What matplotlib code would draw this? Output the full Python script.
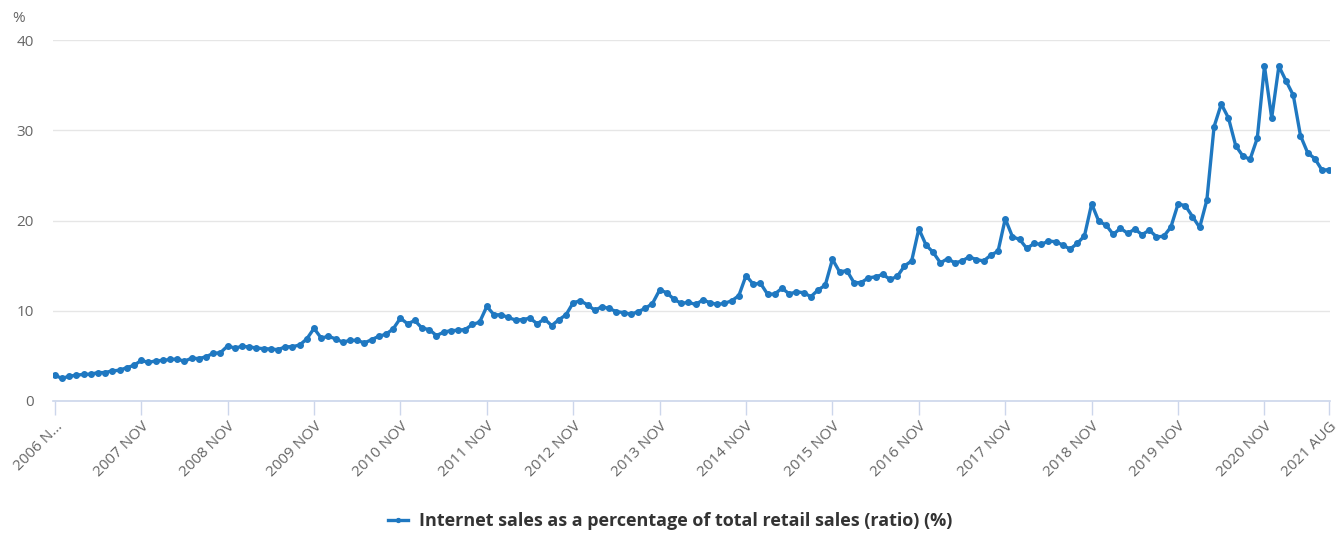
import numpy as np
from matplotlib import pyplot as plt

# monthly ratio, 2006 Nov .. 2021 Aug
ratio = [
    2.86, 2.5, 2.75, 2.86, 2.95, 2.97, 3.15, 3.15, 3.35, 3.4, 3.7, 3.95,
    4.5, 4.27, 4.45, 4.5, 4.6, 4.65, 4.4, 4.75, 4.7, 4.9, 5.28, 5.35,
    6.1, 5.87, 6.05, 6.0, 5.87, 5.8, 5.76, 5.69, 6.0, 6.02, 6.2, 6.88,
    8.05, 6.97, 7.17, 6.88, 6.52, 6.72, 6.72, 6.43, 6.8, 7.17, 7.4, 8.0,
    9.18, 8.55, 8.92, 8.07, 7.92, 7.25, 7.62, 7.8, 7.84, 7.92, 8.48, 8.74,
    10.48, 9.55, 9.55, 9.26, 8.96, 9.03, 9.18, 8.55, 9.1, 8.36, 9.0, 9.55,
    10.9, 11.1, 10.65, 10.05, 10.45, 10.25, 9.9, 9.8, 9.6, 9.9, 10.26, 10.8,
    12.3, 12.0, 11.26, 10.82, 10.93, 10.7, 11.19, 10.9, 10.7, 10.82, 11.1, 11.67,
    13.9, 12.94, 13.05, 11.82, 11.86, 12.5, 11.86, 12.1, 12.0, 11.56, 12.3, 12.83,
    15.7, 14.3, 14.45, 13.1, 13.13, 13.65, 13.76, 14.03, 13.47, 13.8, 14.96, 15.52,
    19.07, 17.28, 16.46, 15.3, 15.78, 15.3, 15.52, 15.97, 15.67, 15.52, 16.16, 16.6,
    20.19, 18.2, 17.9, 16.9, 17.46, 17.35, 17.72, 17.65, 17.28, 16.83, 17.46, 18.3,
    21.85, 19.89, 19.5, 18.45, 19.15, 18.57, 19.05, 18.42, 18.94, 18.2, 18.24, 19.27,
    21.83, 21.65, 20.44, 19.23, 22.27, 30.4, 32.9, 31.36, 28.3, 27.14, 26.78, 29.12,
    37.1, 31.36, 37.1, 35.46, 33.88, 29.4, 27.5, 26.85, 25.57, 25.64,
]
tick_labels = ["2006 N..."] + [f"{y} NOV" for y in range(2007, 2021)] + ["2021 AUG"]
tick_pos = list(range(0, 169, 12)) + [177]
y_ticks = [0, 10, 20, 30, 40]
series_name = "Internet sales as a percentage of total retail sales (ratio) (%)"

plt.rcParams["font.family"] = ["Open Sans", "DejaVu Sans"]

blue = "#1f78c1"
grey = "#666666"
axis_col = "#ccd6eb"


def main(output="out.png"):
    x = np.arange(len(ratio))
    fig = plt.figure(figsize=(13.41, 5.34), dpi=100)
    ax = fig.add_axes([53 / 1341, 1 - 401 / 534, 1277 / 1341, 361 / 534])

    ax.plot(x, ratio, color=blue, lw=2.4, marker="o", ms=4, label=series_name)

    ax.set_xlim(-0.25, 177.1)
    ax.set_ylim(0, 40)
    ax.set_yticks(y_ticks)
    ax.set_xticks(tick_pos)
    ax.set_xticklabels(tick_labels, rotation=45, ha="right", rotation_mode="anchor")

    ax.grid(axis="y", color="#e6e6e6", lw=1)
    ax.set_axisbelow(True)
    for side in ("top", "right", "left"):
        ax.spines[side].set_visible(False)
    ax.spines["bottom"].set_color(axis_col)
    ax.spines["bottom"].set_linewidth(1.2)
    ax.tick_params(axis="y", length=0, pad=14, labelsize=11, labelcolor=grey)
    ax.tick_params(axis="x", length=10, width=1, color=axis_col, pad=3,
                   labelsize=11, labelcolor=grey)

    fig.text(12 / 1341, 1 - 19 / 534, "%", fontsize=11, color=grey, va="center")

    leg = fig.legend(loc="center", bbox_to_anchor=(0.5, 1 - 521 / 534),
                     frameon=False, handlelength=1.1, markerscale=0.7,
                     handletextpad=0.6, prop={"weight": "bold", "size": 13})
    for t in leg.get_texts():
        t.set_color("#333333")

    fig.savefig(output)


if __name__ == "__main__":
    main()
